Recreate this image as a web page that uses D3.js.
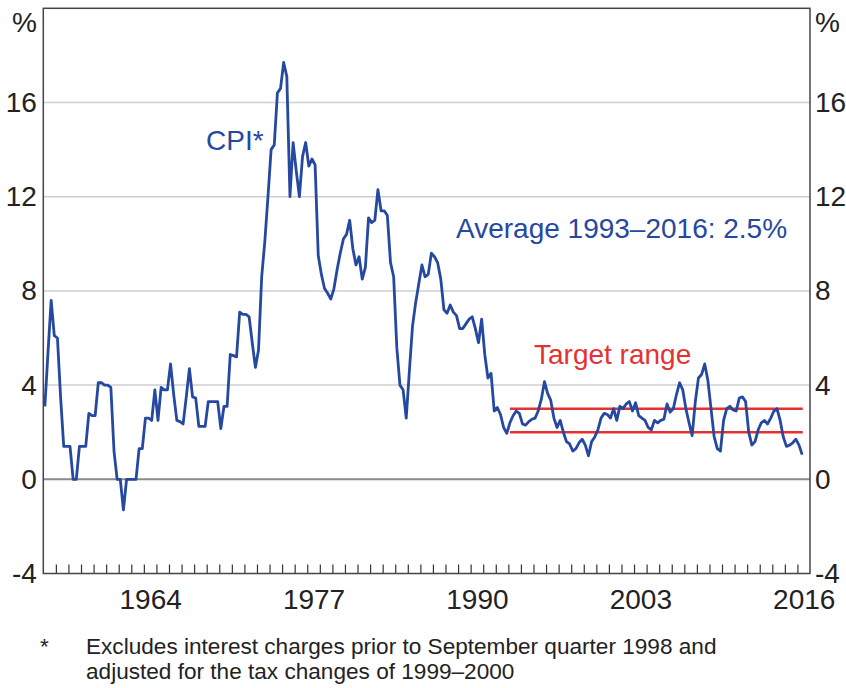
<!DOCTYPE html>
<html>
<head>
<meta charset="utf-8">
<script src="https://cdn.jsdelivr.net/npm/d3@7"></script>
<style>
	body { margin: 0; background: #fff; }
	text { font-family: 'Liberation Sans', Arial, Helvetica, sans-serif; }
</style>
</head>
<body>
<svg id="chart" width="846" height="688"></svg>
<script>
// Year-ended CPI inflation, quarterly, starting March quarter 1956
var firstYear = 1956;
var cpi1950s = [3.1, 5.4, 7.6, 6.1, 6.0, 3.5, 1.4, 1.4, 1.4, 0.0, 0.0, 1.4, 1.4, 1.4, 2.8, 2.7];
var cpi1960s = [2.7, 4.1, 4.1, 4.0, 4.0, 3.9, 1.2, 0.0, 0.0, -1.3, 0.0, 0.0, 0.0, 0.0, 1.3, 1.3,
	2.6, 2.6, 2.5, 3.8, 2.5, 3.9, 3.8, 3.8, 4.9, 3.6, 2.5, 2.45, 2.35, 3.5, 4.7, 3.5,
	3.45, 2.25, 2.25, 2.25, 3.3, 3.3, 3.3, 3.3];
var cpi1970s = [2.15, 3.1, 3.1, 5.3, 5.25, 5.2, 7.1, 7.0, 7.0, 6.9, 5.8, 4.75, 5.5, 8.6, 10.1, 12.0,
	14.0, 14.2, 16.4, 16.6, 17.7, 17.1, 12.0, 14.3, 13.1, 12.0, 13.7, 14.3, 13.3, 13.6, 13.35, 9.5,
	8.7, 8.1, 7.9, 7.65, 8.1, 8.9, 9.6, 10.2];
var cpi1980s = [10.4, 11.0, 9.8, 9.1, 9.45, 8.5, 9.0, 11.1, 10.9, 11.0, 12.3, 11.4, 11.4, 11.2, 9.2, 8.6,
	5.6, 4.0, 3.8, 2.6, 4.6, 6.5, 7.5, 8.3, 9.1, 8.6, 8.7, 9.6, 9.45, 9.2, 8.5, 7.2,
	7.05, 7.4, 7.1, 6.95, 6.4, 6.4, 6.6, 6.8];
var cpi1990s = [6.9, 6.4, 5.8, 6.8, 5.3, 4.3, 4.5, 2.9, 3.05, 2.75, 2.2, 1.95, 2.4, 2.7, 2.9, 2.8,
	2.35, 2.3, 2.45, 2.55, 2.6, 2.9, 3.4, 4.15, 3.65, 3.35, 2.6, 2.2, 2.5, 2.0, 1.6, 1.5,
	1.2, 1.3, 1.55, 1.7, 1.45, 1.0, 1.6, 1.8];
var cpi2000s = [2.1, 2.6, 2.8, 2.75, 2.6, 3.0, 2.5, 3.1, 3.0, 3.2, 3.3, 2.9, 3.25, 2.7, 2.6, 2.5,
	2.2, 2.1, 2.5, 2.4, 2.5, 2.55, 3.2, 2.85, 3.0, 3.6, 4.1, 3.8, 3.0, 2.4, 1.85, 3.3,
	4.3, 4.45, 4.9, 4.2, 3.0, 1.8, 1.3, 1.2];
var cpi2010s = [2.5, 3.0, 3.1, 2.95, 2.9, 3.45, 3.5, 3.3, 2.0, 1.45, 1.6, 2.1, 2.4, 2.5, 2.35, 2.6,
	2.9, 3.0, 2.5, 1.8, 1.4, 1.45, 1.55, 1.7, 1.45, 1.05];

var targetRange = [2, 3];
var targetStart = 1993;
var yTicks = [-4, 0, 4, 8, 12, 16];
var yearLabels = [1964, 1977, 1990, 2003, 2016];
var xDomain = [1956, 2017];
var yDomain = [-4, 20];

var options = {
	width: 846,
	height: 688,
	plot: { left: 43.3, right: 810, top: 8.3, bottom: 573.5 },
	blue: '#2548a0',
	red: '#e5312f',
	text: '#222',
	fontSize: 28,
	noteSize: 22.6
};

var series = [].concat(cpi1950s, cpi1960s, cpi1970s, cpi1980s, cpi1990s, cpi2000s, cpi2010s)
	.map(function (v, i) {
		return { t: firstYear + (i + 0.5) / 4, v: v };
	});
var lastT = series[series.length - 1].t;

var svg = d3.select('#chart');

var x = d3.scaleLinear().domain(xDomain).range([options.plot.left, options.plot.right]);
var y = d3.scaleLinear().domain(yDomain).range([options.plot.bottom, options.plot.top]);

// Gridlines
svg.append('g')
	.selectAll('line')
	.data(yTicks.filter(function (d) { return d > -4; }))
	.enter().append('line')
	.attr('x1', options.plot.left)
	.attr('x2', options.plot.right)
	.attr('y1', function (d) { return y(d); })
	.attr('y2', function (d) { return y(d); })
	.attr('stroke', function (d) { return d === 0 ? '#8a8a8a' : '#cfcfcf'; })
	.attr('stroke-width', function (d) { return d === 0 ? 2 : 1.5; });

// Year ticks along the bottom
var bottomTicks = svg.append('g')
	.attr('transform', 'translate(0,' + options.plot.bottom + ')')
	.call(d3.axisBottom(x)
		.tickValues(d3.range(xDomain[0] + 1, xDomain[1]))
		.tickSize(-9)
		.tickFormat(''));
bottomTicks.select('.domain').remove();
bottomTicks.selectAll('line').attr('stroke', '#333').attr('stroke-width', 1.2);

// Year labels, centred in the year
var bottomLabels = svg.append('g')
	.attr('transform', 'translate(0,' + options.plot.bottom + ')')
	.call(d3.axisBottom(x)
		.tickValues(yearLabels.map(function (d) { return d + 0.5; }))
		.tickSize(0)
		.tickPadding(16)
		.tickFormat(function (d) { return Math.floor(d); }));
bottomLabels.select('.domain').remove();

// Left and right axes
var leftAxis = svg.append('g')
	.attr('transform', 'translate(' + options.plot.left + ',0)')
	.call(d3.axisLeft(y).tickValues(yTicks).tickSize(0).tickPadding(6.5).tickFormat(d3.format('d')));
var rightAxis = svg.append('g')
	.attr('transform', 'translate(' + options.plot.right + ',0)')
	.call(d3.axisRight(y).tickValues(yTicks).tickSize(0).tickPadding(5).tickFormat(d3.format('d')));
leftAxis.select('.domain').remove();
rightAxis.select('.domain').remove();

svg.selectAll('.tick text')
	.attr('font-family', "'Liberation Sans', Arial, sans-serif")
	.attr('font-size', options.fontSize)
	.attr('fill', options.text)
	.text(function () { return this.textContent.replace('\u2212', '-'); });

// Unit labels
svg.append('text')
	.attr('x', options.plot.left - 6.5)
	.attr('y', 31.5)
	.attr('text-anchor', 'end')
	.attr('font-size', options.fontSize)
	.attr('fill', options.text)
	.text('%');
svg.append('text')
	.attr('x', options.plot.right + 5)
	.attr('y', 31.5)
	.attr('font-size', options.fontSize)
	.attr('fill', options.text)
	.text('%');

// Target range
svg.append('g')
	.selectAll('line')
	.data(targetRange)
	.enter().append('line')
	.attr('x1', x(targetStart + 0.125))
	.attr('x2', x(lastT + 0.05))
	.attr('y1', function (d) { return y(d); })
	.attr('y2', function (d) { return y(d); })
	.attr('stroke', options.red)
	.attr('stroke-width', 2.5);

// CPI line
var line = d3.line()
	.x(function (d) { return x(d.t); })
	.y(function (d) { return y(d.v); });

svg.append('path')
	.datum(series)
	.attr('d', line)
	.attr('fill', 'none')
	.attr('stroke', options.blue)
	.attr('stroke-width', 2.8)
	.attr('stroke-linejoin', 'round');

// Frame
svg.append('rect')
	.attr('x', options.plot.left)
	.attr('y', options.plot.top)
	.attr('width', options.plot.right - options.plot.left)
	.attr('height', options.plot.bottom - options.plot.top)
	.attr('fill', 'none')
	.attr('stroke', '#444')
	.attr('stroke-width', 1.5);

// Annotations
svg.append('text')
	.attr('x', 206)
	.attr('y', 150)
	.attr('font-size', options.fontSize)
	.attr('fill', options.blue)
	.text('CPI*');
svg.append('text')
	.attr('x', 456)
	.attr('y', 238)
	.attr('font-size', options.fontSize)
	.attr('fill', options.blue)
	.text('Average 1993\u20132016: 2.5%');
svg.append('text')
	.attr('x', 534)
	.attr('y', 364)
	.attr('font-size', options.fontSize)
	.attr('fill', options.red)
	.text('Target range');

// Footnote
var note = svg.append('g')
	.attr('font-size', options.noteSize)
	.attr('fill', options.text);
note.append('text').attr('x', 40).attr('y', 654).text('*');
note.append('text').attr('x', 86).attr('y', 654)
	.text('Excludes interest charges prior to September quarter 1998 and');
note.append('text').attr('x', 86).attr('y', 679)
	.text('adjusted for the tax changes of 1999\u20132000');
</script>
</body>
</html>
